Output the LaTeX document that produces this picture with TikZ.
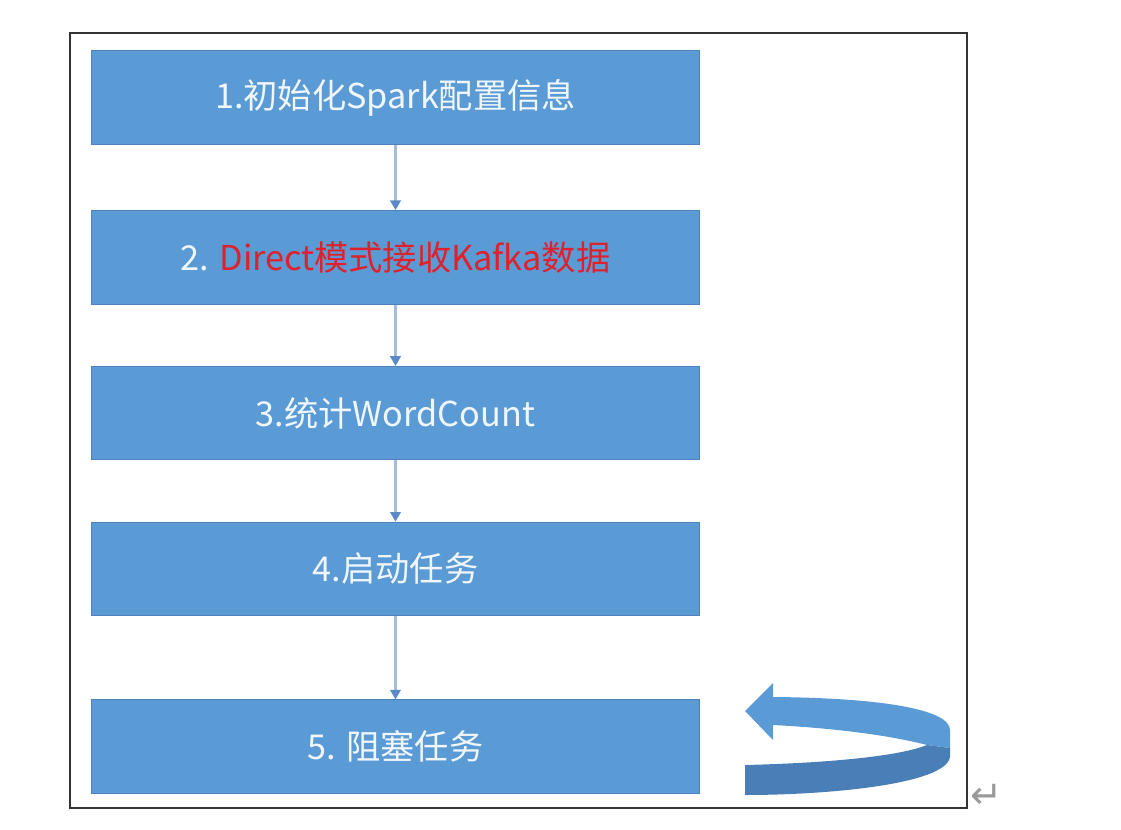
\documentclass[tikz,border=0pt]{standalone}
\usepackage{fontspec}
\usetikzlibrary{matrix,arrows.meta}
\newfontfamily\cjk{Noto Sans CJK SC}
\newfontfamily\symfont{DejaVu Sans}
\definecolor{boxblue}{HTML}{5B9BD5}
\definecolor{boxedge}{HTML}{4F81BD}
\definecolor{linkblue}{HTML}{A5BDDC}
\definecolor{tipblue}{HTML}{5A8AC6}
\definecolor{turnlight}{HTML}{5B9BD5}
\definecolor{turndark}{HTML}{4A7EB7}
\definecolor{labelwhite}{HTML}{F0F6FC}
\definecolor{kafkared}{HTML}{E0202A}

\begin{document}
\begin{tikzpicture}[x=0.02cm, y=-0.02cm]
\tikzstyle{stepbox}=[draw=boxedge, line width=0.6pt, fill=boxblue, text=labelwhite, minimum width=12.18cm, minimum height=1.87cm, inner sep=0pt, font=\cjk\fontsize{19.5}{22}\selectfont]
\tikzstyle{link}=[draw=linkblue, line width=1.2pt, -{Triangle[width=6pt, length=5.5pt, color=tipblue]}]
\useasboundingbox (0,0) rectangle (1121,830);
\draw[line width=1.2pt, draw=black!80] (70,33) rectangle (967,808);
\matrix (m) at (395.5,50)
[	matrix of nodes,
	anchor		=	north,
	inner sep	=	0pt,
	row sep		=	1.225cm,
	nodes		=	stepbox
]
{	1.初始化Spark配置信息	\\[0.08cm]
	2. \textcolor{kafkared}{Direct模式接收Kafka数据}	\\
	3.统计WordCount	\\
	4.启动任务	\\[0.44cm]
	5. 阻塞任务	\\
};
\path[link]
(m-1-1) edge 	(m-2-1)
(m-2-1) edge 	(m-3-1)
(m-3-1) edge 	(m-4-1)
(m-4-1) edge 	(m-5-1);
\fill[turnlight] (745,711) -- (773,683) -- (773,697) .. controls (885,698) and (950,710) .. (950,730) -- (950,748) -- (927,745) .. controls (900,738) and (850,729) .. (773,725) -- (773,740) -- cycle;
\fill[turndark] (927,745) -- (950,748) -- (950,757) .. controls (946,784) and (830,795) .. (745,795) -- (745,765) .. controls (830,763) and (900,756) .. (927,745) -- cycle;
\node[text=black!40, font=\symfont\fontsize{22}{22}\selectfont] (ret) at (987,796) {↵};
\end{tikzpicture}
\end{document}
